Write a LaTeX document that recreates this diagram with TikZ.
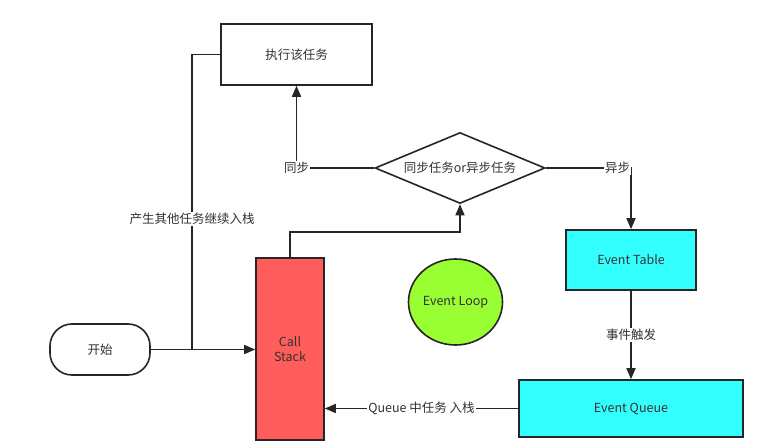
\documentclass[tikz,border=0pt]{standalone}
\usepackage{fontspec}
\setmainfont{Noto Sans CJK SC}
\usetikzlibrary{shapes.geometric,arrows.meta}
\definecolor{txt}{HTML}{333333}
\definecolor{edge}{HTML}{262626}
\definecolor{cyanfill}{HTML}{33FFFF}
\definecolor{redfill}{HTML}{FF5C5C}
\definecolor{greenfill}{HTML}{99FF33}
\tikzset{
  box/.style={draw=edge, line width=1.6pt, text=txt, font=\fontsize{12.5}{15}\selectfont, inner sep=0pt},
  conn/.style={draw=edge, line width=1.6pt},
  arr/.style={conn, -{Triangle[length=11pt,width=9pt]}},
  lbl/.style={fill=white, text=txt, font=\fontsize{12.5}{15}\selectfont, inner sep=1pt},
}
\begin{document}
\begin{tikzpicture}[x=1pt,y=-1pt]
\useasboundingbox (0,0) rectangle (757,443);
\fill[white] (0,0) rectangle (757,443);
\node[box, minimum width=151pt, minimum height=61pt] (task) at (296.5,54.5) {执行该任务};
\node[box, diamond, aspect=2.4, minimum width=170pt, minimum height=71pt] (dia) at (460,168) {同步任务or异步任务};
\node[box, fill=cyanfill, minimum width=130pt, minimum height=60pt] (etable) at (631,260) {Event Table};
\node[box, fill=cyanfill, minimum width=224pt, minimum height=57pt] (equeue) at (631,408.5) {Event Queue};
\node[box, fill=redfill, minimum width=68pt, minimum height=182pt, align=center] (cstack) at (290,349) {Call\\Stack};
\node[box, rounded corners=22pt, minimum width=100pt, minimum height=51pt] (start) at (100,349.5) {开始};
\node[box, ellipse, fill=greenfill, minimum width=94pt, minimum height=86pt] (loop) at (455.5,302) {Event Loop};
\coordinate (j) at (192,349.5);
\coordinate (c1) at (290,232);
\draw[arr] (start.east) -- (cstack.west |- start.east);
\draw[conn] (j) |- node[lbl, pos=0.221] {产生其他任务继续入栈} (task.west);
\draw[arr] (cstack.north) -- (c1) -| (dia.south);
\draw[arr] (dia.west) -| node[lbl, pos=0.5] {同步} (task.south);
\draw[arr] (dia.east) -| node[lbl, pos=0.5, anchor=east, xshift=1pt] {异步} (etable.north);
\draw[arr] (etable.south) -- node[lbl] {事件触发} (equeue.north);
\draw[arr] (equeue.west) -- node[lbl] {Queue 中任务 入栈} (cstack.east |- equeue.west);
\end{tikzpicture}
\end{document}
